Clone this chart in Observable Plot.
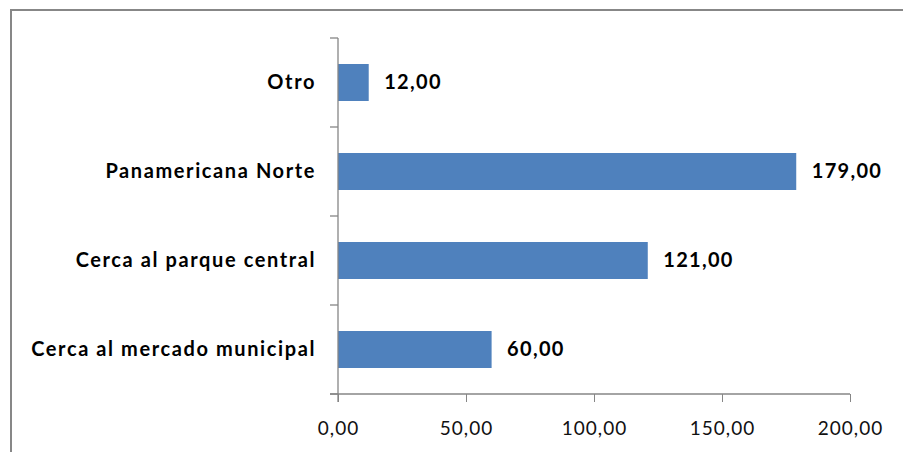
<!DOCTYPE html>
<html><head><meta charset="utf-8">
<script src="https://cdn.jsdelivr.net/npm/d3@7"></script>
<script src="https://cdn.jsdelivr.net/npm/@observablehq/plot@0.6"></script>
<style>
body{margin:0;background:#fff;overflow:hidden}
#wrap{position:relative;width:903px;height:452px;overflow:hidden}
#frame{position:absolute;left:10px;top:9px;width:1000px;height:1000px;border:2px solid #878787;pointer-events:none}
.ylab text{letter-spacing:1.6px}
.vlab text{letter-spacing:1.3px}
.xlab text{letter-spacing:1px}
</style></head><body><div id="wrap"><div id="frame"></div></div>
<script>
const categories = ["Otro", "Panamericana Norte", "Cerca al parque central", "Cerca al mercado municipal"];
const values = [12, 179, 121, 60];
const xTicks = [0, 50, 100, 150, 200];

const data = categories.map((c, i) => ({category: c, value: values[i]}));
const fmt = d => d.toFixed(2).replace(".", ",");
const axisColor = "#868686";
const font = "Lato, 'Open Sans', sans-serif";

function axisLines(index, scales, channels, dims) {
  const {x, y} = scales;
  const bottom = dims.height - dims.marginBottom;
  const x0 = x(xTicks[0]), x1 = x(xTicks[xTicks.length - 1]);
  const g = d3.create("svg:g").attr("stroke", axisColor).attr("stroke-width", 1.3).attr("fill", "none");
  g.append("line").attr("x1", x0).attr("x2", x0).attr("y1", dims.marginTop).attr("y2", bottom + 8);
  const bounds = categories.map(c => y(c)).concat([bottom]);
  for (const b of bounds) g.append("line").attr("x1", x0 - 8).attr("x2", x0).attr("y1", b).attr("y2", b);
  g.append("line").attr("x1", x0 - 8).attr("x2", x1).attr("y1", bottom).attr("y2", bottom);
  return g.node();
}

const chart = Plot.plot({
  width: 903,
  height: 452,
  marginLeft: 338,
  marginRight: 53,
  marginTop: 38,
  marginBottom: 58,
  style: {fontFamily: font, background: "transparent", color: "#000"},
  x: {domain: [0, 200]},
  y: {domain: categories, padding: 0},
  marks: [
    Plot.barX(data, {x: "value", y: "category", fill: "#4F81BD", insetTop: 26, insetBottom: 26}),
    Plot.text(data, {x: "value", y: "category", text: d => fmt(d.value), textAnchor: "start", dx: 15, fontSize: 20, fontWeight: "bold", fill: "#000", className: "vlab"}),
    Plot.axisY({tickSize: 0, tickPadding: 22.5, fontSize: 20, fontWeight: "bold", label: null, className: "ylab"}),
    Plot.axisX({ticks: xTicks, tickFormat: fmt, tickSize: 8, tickPadding: 19, fontSize: 19, stroke: axisColor, fill: "#111", label: null, className: "xlab"}),
    axisLines
  ]
});
document.getElementById("wrap").prepend(chart);
chart.style.position = "absolute"; chart.style.left = "0"; chart.style.top = "0";
</script></body></html>
